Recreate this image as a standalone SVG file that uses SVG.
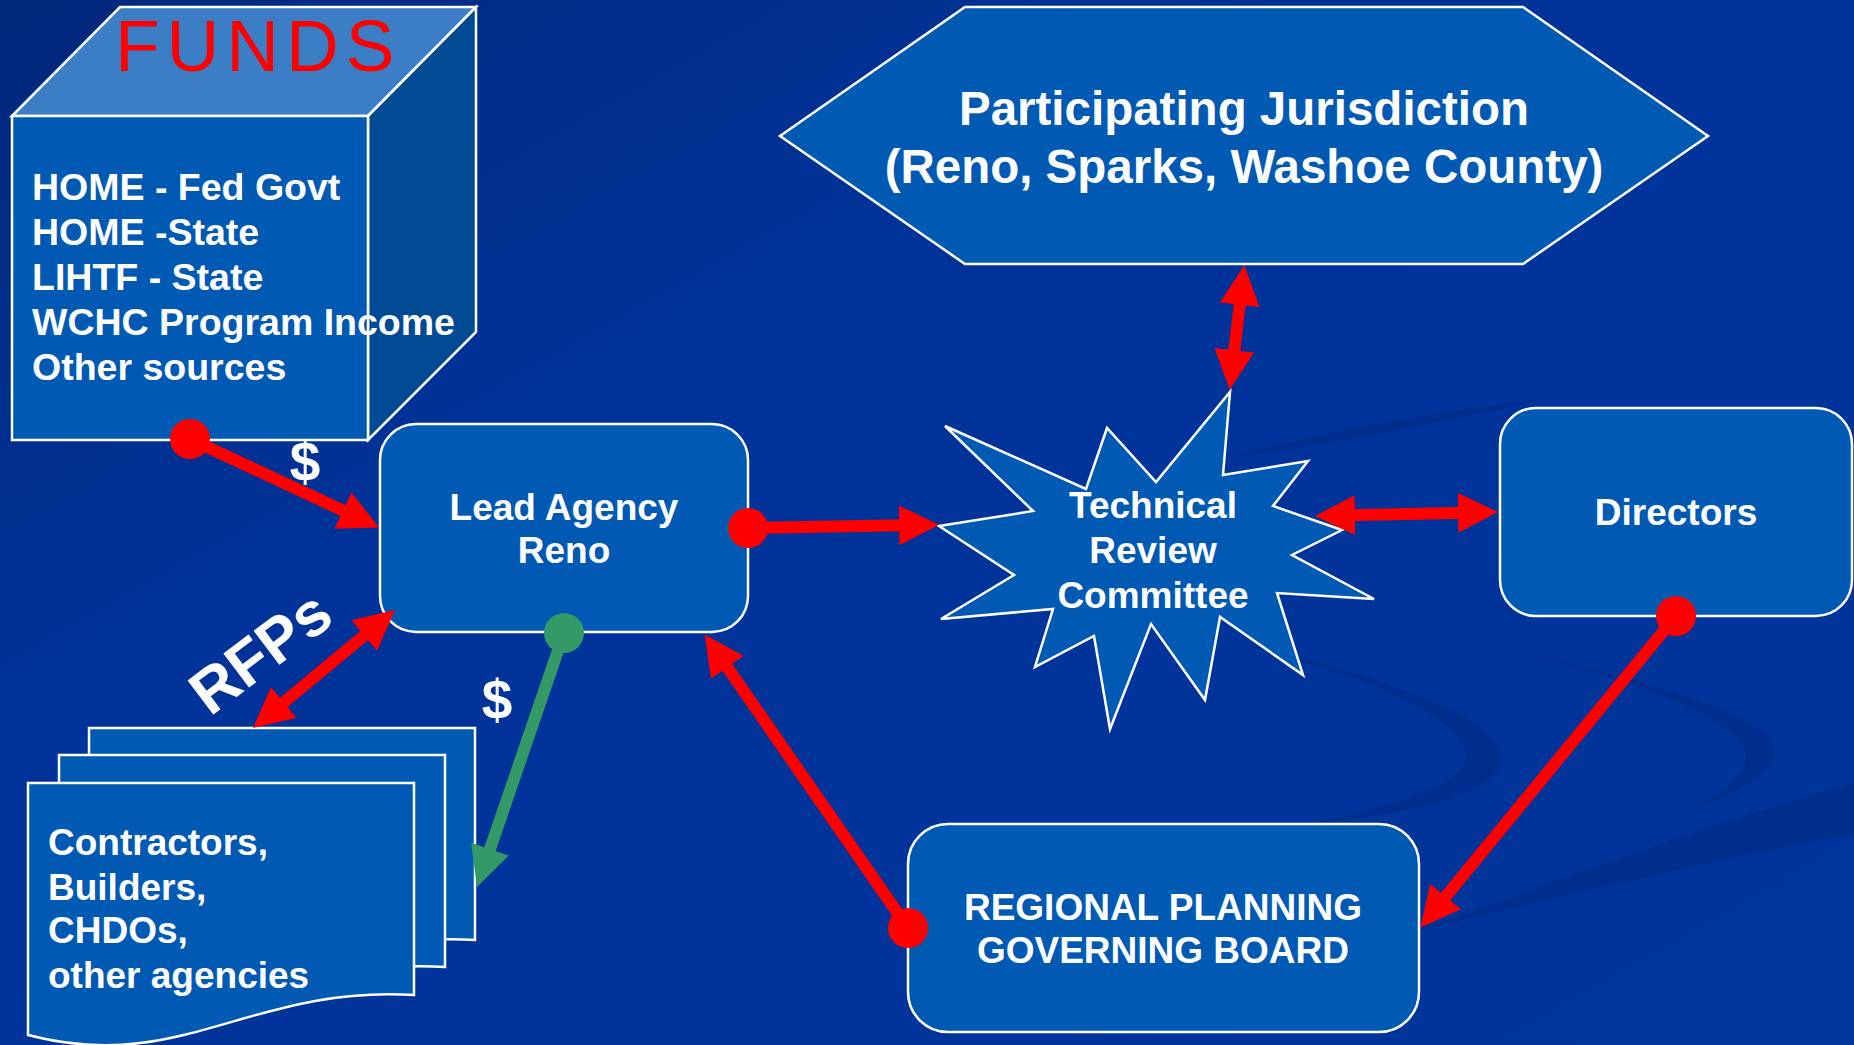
<svg xmlns="http://www.w3.org/2000/svg" width="1854" height="1045" viewBox="0 0 1854 1045">
<defs>
  <linearGradient id="bg" x1="0" y1="0" x2="1" y2="1">
    <stop offset="0" stop-color="#00287a"/>
    <stop offset="0.35" stop-color="#003399"/>
    <stop offset="1" stop-color="#00359c"/>
  </linearGradient>
  <marker id="ahR" viewBox="0 0 40 40" refX="20" refY="20" markerWidth="40" markerHeight="40" markerUnits="userSpaceOnUse" orient="auto-start-reverse">
    <path d="M0,0 L40,20 L0,40 Z" fill="#ff0000"/>
  </marker>
  <marker id="ahG" viewBox="0 0 40 40" refX="20" refY="20" markerWidth="40" markerHeight="40" markerUnits="userSpaceOnUse" orient="auto-start-reverse">
    <path d="M0,0 L40,20 L0,40 Z" fill="#339966"/>
  </marker>
  <path id="doc" d="M0,0 H386 V212 C222,202 152,292 0,252 Z"/>
</defs>
<style>
  .box { fill: #0059b3; stroke: #ffffff; stroke-width: 2.5; }
  .t { font-family: "Liberation Sans", Arial, sans-serif; font-weight: bold; fill: #ffffff; }
  .c { text-anchor: middle; }
  .red { stroke: #ff0000; stroke-width: 12; fill: none; }
  .green { stroke: #339966; stroke-width: 12; fill: none; }
  .swoosh { fill: #002d8a; opacity: 0.8; }
</style>
<rect x="0" y="0" width="1854" height="1045" fill="url(#bg)"/>
<g id="background-swooshes">
  <path class="swoosh" d="M1400,935 C1550,885 1700,825 1854,783 L1854,834 C1700,862 1550,900 1400,935 Z"/>
  <path class="swoosh" d="M1215,637 C1400,680 1525,725 1497,770 C1480,800 1400,815 1315,823 C1400,803 1462,785 1466,760 C1470,720 1380,680 1215,637 Z"/>
  <path class="swoosh" d="M1470,640 C1650,680 1792,720 1774,757 C1760,785 1720,800 1681,813 C1722,795 1748,775 1746,755 C1742,720 1640,680 1470,640 Z"/>
  <path class="swoosh" d="M1226,458 C1330,430 1430,412 1540,400 C1430,425 1330,445 1226,458 Z"/>
</g>

<g id="funds">
  <polygon points="12,116 120,7 476,7 368,116" fill="#3b7ec5" stroke="#ffffff" stroke-width="2.5"/>
  <polygon points="368,116 476,7 476,332 368,440" fill="#004a94" stroke="#ffffff" stroke-width="2.5"/>
  <rect x="12" y="116" width="356" height="324" class="box"/>
  <text x="115" y="71" font-family="Liberation Sans, Arial, sans-serif" font-size="73" letter-spacing="7" fill="#ff0000">FUNDS</text>
  <text class="t" font-size="37.5" x="32" y="200">HOME - Fed Govt</text>
  <text class="t" font-size="37.5" x="32" y="245">HOME -State</text>
  <text class="t" font-size="37.5" x="32" y="290">LIHTF - State</text>
  <text class="t" font-size="37.5" x="32" y="335">WCHC Program Income</text>
  <text class="t" font-size="37.5" x="32" y="380">Other sources</text>
</g>

<g id="participating">
  <polygon points="780,136 965,7 1523,7 1708,136 1523,264 965,264" class="box"/>
  <text class="t c" font-size="47.5" x="1244" y="125">Participating Jurisdiction</text>
  <text class="t c" font-size="47.5" x="1244" y="183">(Reno, Sparks, Washoe County)</text>
</g>

<g id="lead-agency">
  <rect x="380" y="424" width="368" height="208" rx="36" class="box"/>
  <text class="t c" font-size="37" x="564" y="520">Lead Agency</text>
  <text class="t c" font-size="37" x="564" y="563">Reno</text>
</g>

<g id="technical-review">
  <polygon class="box" points="1230,392 1223,475 1308,461 1273,506 1342,530 1292,555 1374,599 1277,593 1303,675 1220,617 1205,700 1151,624 1110,729 1094,636 1035,667 1053,609 941,619 1014,575 939,526 1033,511 945,426 1086,489 1107,428 1156,482"/>
  <text class="t c" font-size="37" x="1153" y="518">Technical</text>
  <text class="t c" font-size="37" x="1153" y="563">Review</text>
  <text class="t c" font-size="37" x="1153" y="608">Committee</text>
</g>

<g id="directors">
  <rect x="1500" y="408" width="352" height="208" rx="36" class="box"/>
  <text class="t c" font-size="37" x="1676" y="525">Directors</text>
</g>

<g id="regional-board">
  <rect x="908" y="824" width="511" height="208" rx="40" class="box"/>
  <text class="t c" font-size="37" x="1163" y="920">REGIONAL PLANNING</text>
  <text class="t c" font-size="37" x="1163" y="963">GOVERNING BOARD</text>
</g>

<g id="contractors">
  <use href="#doc" x="89" y="728" class="box"/>
  <use href="#doc" x="59" y="755" class="box"/>
  <use href="#doc" x="28" y="783" class="box"/>
  <text class="t" font-size="37" x="48" y="855">Contractors,</text>
  <text class="t" font-size="37" x="48" y="900">Builders,</text>
  <text class="t" font-size="37" x="48" y="943">CHDOs,</text>
  <text class="t" font-size="37" x="48" y="988">other agencies</text>
</g>

<g id="connectors">
  <line class="red" x1="190" y1="439" x2="361" y2="519" marker-end="url(#ahR)"/>
  <circle cx="190" cy="439" r="20" fill="#ff0000"/>
  <line class="red" x1="748" y1="528" x2="919" y2="525" marker-end="url(#ahR)"/>
  <circle cx="748" cy="528" r="20" fill="#ff0000"/>
  <line class="red" x1="1232" y1="370" x2="1242" y2="285" marker-start="url(#ahR)" marker-end="url(#ahR)"/>
  <line class="red" x1="1335" y1="515.6" x2="1478" y2="512.4" marker-start="url(#ahR)" marker-end="url(#ahR)"/>
  <line class="red" x1="1676" y1="616" x2="1433" y2="912" marker-end="url(#ahR)"/>
  <circle cx="1676" cy="616" r="20" fill="#ff0000"/>
  <line class="red" x1="908" y1="928" x2="716" y2="651" marker-end="url(#ahR)"/>
  <circle cx="908" cy="928" r="20" fill="#ff0000"/>
  <line class="red" x1="268.4" y1="715.2" x2="379.6" y2="622.8" marker-start="url(#ahR)" marker-end="url(#ahR)"/>
  <line class="green" x1="564" y1="633" x2="483.5" y2="868" marker-end="url(#ahG)"/>
  <circle cx="564" cy="633" r="20" fill="#339966"/>
  <text class="t c" font-size="55" x="305" y="481">$</text>
  <text class="t c" font-size="55" x="497" y="719">$</text>
  <text class="t" font-size="62" x="210" y="717" transform="rotate(-37 210 717)">RFPs</text>
</g>
</svg>
